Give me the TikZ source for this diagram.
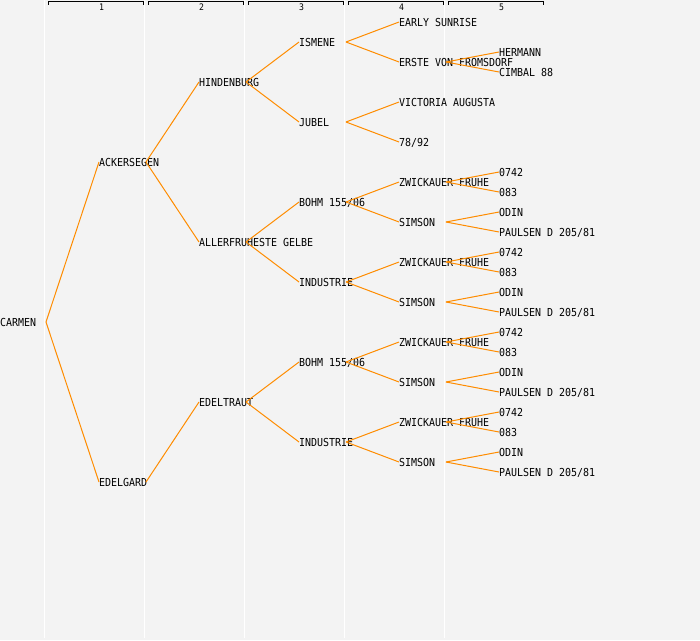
\documentclass[tikz,border=0pt]{standalone}
\usepackage{fontspec}
\newfontfamily\pedfont[FakeStretch=0.906]{DejaVu Sans Mono}
\definecolor{bg}{HTML}{F3F3F3}
\definecolor{ln}{HTML}{FF8C00}
\tikzset{
  nm/.style={anchor=west, inner sep=0pt, font=\pedfont\fontsize{11}{11}\selectfont, text height=8pt, text depth=0pt},
  conn/.style={draw=ln, line width=1pt},
  colline/.style={draw=white, line width=1pt},
  bracket/.style={draw=black, line width=1pt},
  hdr/.style={inner sep=0pt, font=\pedfont\fontsize{9}{9}\selectfont}
}
\newcommand\pn[4]{\node[nm] (#1) at (#2,#3) {#4}; \coordinate (#1f) at ({#2+47},#3);}
\newcommand\kid[5]{\pn{#2}{#3}{#4}{#5}\draw[conn] (#1f) -- (#2.west);}
\begin{document}
\begin{tikzpicture}[x=1pt,y=-1pt]
\fill[bg] (0,0) rectangle (700,640);
\useasboundingbox (0,0) rectangle (700,640);
% column separators
\foreach \c in {44.5,144.5,244.5,344.5,444.5}{\draw[colline] (\c,0) -- (\c,638);}
% header brackets
\foreach \k in {1,...,5}{
  \draw[bracket] ({48+100*(\k-1)},4.5) -- ({48+100*(\k-1)},1.5) -- ({143+100*(\k-1)},1.5) -- ({143+100*(\k-1)},4.5);
  \node[hdr] (h\k) at ({101.5+100*(\k-1)},7) {\k};
}
% root
\node[nm] (c) at (0,322) {CARMEN};
\coordinate (cf) at (46,322);
% generation 1
\kid{c}{a}{99}{162}{ACKERSEGEN}
\kid{c}{b}{99}{482}{EDELGARD}
% generation 2
\kid{a}{aa}{199}{82}{HINDENBURG}
\kid{a}{ab}{199}{242}{ALLERFRUHESTE GELBE}
\kid{b}{ba}{199}{402}{EDELTRAUT}
% generation 3
\kid{aa}{aaa}{299}{42}{ISMENE}
\kid{aa}{aab}{299}{122}{JUBEL}
\kid{ab}{aba}{299}{202}{BOHM 155/06}
\kid{ab}{abb}{299}{282}{INDUSTRIE}
\kid{ba}{baa}{299}{362}{BOHM 155/06}
\kid{ba}{bab}{299}{442}{INDUSTRIE}
% generation 4
\kid{aaa}{aaaa}{399}{22}{EARLY SUNRISE}
\kid{aaa}{aaab}{399}{62}{ERSTE VON FROMSDORF}
\kid{aab}{aaba}{399}{102}{VICTORIA AUGUSTA}
\kid{aab}{aabb}{399}{142}{78/92}
\kid{aba}{abaa}{399}{182}{ZWICKAUER FRUHE}
\kid{aba}{abab}{399}{222}{SIMSON}
\kid{abb}{abba}{399}{262}{ZWICKAUER FRUHE}
\kid{abb}{abbb}{399}{302}{SIMSON}
\kid{baa}{baaa}{399}{342}{ZWICKAUER FRUHE}
\kid{baa}{baab}{399}{382}{SIMSON}
\kid{bab}{baba}{399}{422}{ZWICKAUER FRUHE}
\kid{bab}{babb}{399}{462}{SIMSON}
% generation 5
\kid{aaab}{aaaba}{499}{52}{HERMANN}
\kid{aaab}{aaabb}{499}{72}{CIMBAL 88}
\kid{abaa}{abaaa}{499}{172}{0742}
\kid{abaa}{abaab}{499}{192}{083}
\kid{abab}{ababa}{499}{212}{ODIN}
\kid{abab}{ababb}{499}{232}{PAULSEN D 205/81}
\kid{abba}{abbaa}{499}{252}{0742}
\kid{abba}{abbab}{499}{272}{083}
\kid{abbb}{abbba}{499}{292}{ODIN}
\kid{abbb}{abbbb}{499}{312}{PAULSEN D 205/81}
\kid{baaa}{baaaa}{499}{332}{0742}
\kid{baaa}{baaab}{499}{352}{083}
\kid{baab}{baaba}{499}{372}{ODIN}
\kid{baab}{baabb}{499}{392}{PAULSEN D 205/81}
\kid{baba}{babaa}{499}{412}{0742}
\kid{baba}{babab}{499}{432}{083}
\kid{babb}{babba}{499}{452}{ODIN}
\kid{babb}{babbb}{499}{472}{PAULSEN D 205/81}
\end{tikzpicture}
\end{document}
